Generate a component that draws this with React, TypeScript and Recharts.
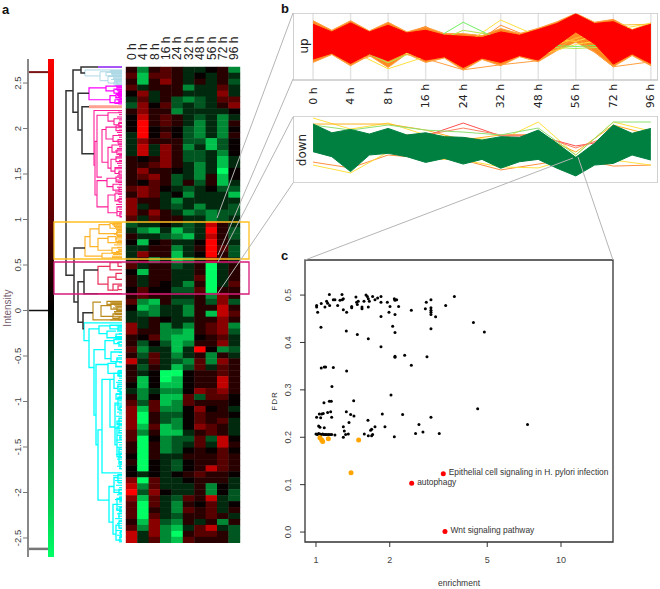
import {
  ComposedChart,
  ScatterChart,
  Scatter,
  Area,
  Line,
  XAxis,
  YAxis,
  CartesianGrid,
  ReferenceArea,
  ReferenceLine,
  LabelList,
} from "recharts";

// panel a: heatmap, one row per cluster block, + is red, - is green
const hours = ["0 h", "4 h", "8 h", "16 h", "24 h", "32 h", "48 h", "56 h", "72 h", "96 h"];

const heatRows = [
  [1, -3, 1, 2, 1, -1, -1, 0, 1, -3],
  [2, -4, 2, 2, 1, -1, 0, -1, 1, -1],
  [1, -4, 1, 3, 1, -1, 1, -1, 1, -2],
  [2, -1, 1, 1, 1, -3, -1, -1, 2, -1],
  [0, 3, -1, 1, 1, -1, -1, -1, 3, -1],
  [-1, 2, -1, 1, -2, -3, -2, -1, 2, 2],
  [-2, 3, 0, 2, -2, -1, -2, -1, 1, 3],
  [1, 3, 1, 1, -3, -1, -1, -1, -1, 0],
  [0, 4, 1, 2, 1, -1, -2, -1, -3, -1],
  [0, 5, 1, 2, 1, -1, -3, -1, -3, 1],
  [0, 5, 0, 1, 0, -2, -3, -1, -3, 0],
  [-1, 5, 0, 2, 0, -2, -3, -1, -3, 1],
  [-1, 3, 1, 1, 1, -2, -2, -4, -2, 0],
  [-1, 4, -1, 3, 1, -3, -1, -4, -2, 0],
  [-1, 4, -1, 3, 1, -2, -2, -1, -3, 0],
  [1, 0, 1, 3, 1, -2, -2, -1, -4, -1],
  [1, 1, 2, 3, 1, -1, -3, -1, -4, -1],
  [1, 3, 1, 1, 0, -1, -3, -1, -5, 0],
  [1, 2, 3, 1, -2, -1, -3, 1, -4, 0],
  [1, 0, 2, 1, -2, 1, -2, 1, -4, -1],
  [2, 3, 2, 0, -1, -2, -1, 0, -2, -2],
  [1, 3, 2, -1, 0, -3, -1, -1, -1, -4],
  [3, 1, 1, -1, -3, -1, -1, -1, -1, -1],
  [3, -1, 1, -1, -2, -1, -3, -1, -1, -2],
  [3, 1, 3, 1, -1, -3, -2, -3, -2, -2],
  [2, -1, 2, 1, 1, -1, -1, -3, -2, -1],
  [-2, -1, -1, 0, -1, -2, -1, 4, 1, -1],
  [-1, -3, -4, -1, -4, -2, -1, 5, 1, -2],
  [1, -1, -1, -2, -3, -4, -1, 4, 1, -2],
  [0, -4, 0, 1, -1, -1, 0, 5, 1, -1],
  [-1, -1, 1, 1, -3, -1, 1, 5, 2, -2],
  [-1, 3, 1, 1, -4, -1, 0, 5, 1, -2],
  [-1, 1, -3, -1, -4, -3, -1, 3, 1, -1],
  [2, -1, 1, 1, -2, -1, 1, -5, -1, 1],
  [0, -4, 1, 1, -1, -1, 1, -5, -1, 1],
  [1, -1, 1, 1, -1, -1, 2, -5, -1, 1],
  [1, -1, 1, 0, -1, -3, 1, -5, -1, 2],
  [0, 2, 0, 0, -2, -2, 2, -5, 1, 1],
  [1, 2, 1, 1, -1, -1, 1, -3, 3, 1],
  [2, -3, -4, 1, -2, -2, 1, -2, 3, -2],
  [0, -4, -3, -1, -1, -3, 1, 1, 4, 1],
  [-1, -2, -3, -1, -1, -3, 1, -4, 4, 2],
  [-1, -1, 1, 0, -1, -1, 1, 1, 3, 1],
  [3, -1, 1, -3, -1, -3, 1, 2, 3, -3],
  [3, 1, 1, -3, -3, -4, 1, 2, 3, -2],
  [1, 0, 2, -3, -4, -4, 0, 1, 2, -1],
  [1, -2, 0, -2, -4, -3, 1, 1, 3, -1],
  [2, -3, -1, -1, -4, -1, 5, 0, -3, -2],
  [1, -2, 2, -1, -3, -1, 1, -3, 1, -1],
  [4, -1, 2, -1, -2, -3, 2, -3, 3, 1],
  [1, -2, 1, -1, -4, -2, 2, -1, 2, 1],
  [1, -1, 0, -5, -5, 0, 1, 1, 2, 1],
  [1, -4, 0, -5, -4, 0, 1, 1, 4, 1],
  [0, -4, 0, -4, -4, 0, 1, 1, 4, 1],
  [-1, -3, -1, -3, -3, 0, 3, 2, 3, 1],
  [1, -3, 0, -4, -4, 2, -2, 2, 2, 0],
  [2, -2, 2, -4, -3, 2, 1, 1, 1, 0],
  [3, -4, 2, -3, -3, 0, 3, 0, 1, -1],
  [3, -5, 1, -2, -2, 0, 2, 1, 1, 0],
  [3, -5, 1, -2, -3, 0, 2, 1, 2, -1],
  [3, -4, 2, -4, -3, 0, 3, 2, 1, -1],
  [2, -3, 1, -4, -4, -1, 1, 2, 1, -1],
  [2, -5, 0, -3, -2, -2, 2, -2, 4, 0],
  [1, -5, 1, -3, -2, -1, 2, -1, 4, 1],
  [1, -5, 1, -3, -2, 0, 1, 0, 2, 0],
  [0, -5, 1, -1, -1, 1, 1, 1, 2, 1],
  [1, -5, 0, -1, -2, 0, 1, 1, 2, 1],
  [0, -5, 0, -1, -2, 0, 1, 4, 2, 1],
  [0, -1, 0, -1, 0, 1, 2, 1, 1, 0],
  [3, -5, 2, -1, -1, 0, 1, 1, 1, -1],
  [4, -3, 2, -1, -1, -1, 1, -3, 0, -1],
  [5, -2, 3, 0, -1, -1, 1, -3, 0, -2],
  [3, -4, 2, -1, -2, 2, 1, 4, -1, -2],
  [2, -5, 2, -1, -3, 1, 0, 2, -1, 0],
  [2, -5, 1, -1, -3, 2, 1, 2, -1, 1],
  [2, -5, 2, -1, -2, 1, 1, 2, 1, -1],
  [1, -4, 3, -2, -3, 1, -1, 1, -3, 1],
  [2, -3, 3, -3, -4, -1, 2, 4, -1, -2],
  [4, -1, 3, -3, -5, 1, 2, 2, 1, -2],
  [4, -1, 2, -3, -4, 2, 1, 1, 1, -2],
];

// dendrogram brackets: [height, topRow, bottomRow, heightOfTopChild, heightOfBottomChild]
const rootTree = [
  [56, 3.5, 34.5, 49, 48],
  [49, 0, 7.1, 41, 44],
  [41, -0.5, 0.5, 24, 37],
  [44, 3.9, 10.1, 33, 40],
  [40, 6.2, 14.1, 33, 28],
  [48, 29.9, 39, 37, 44],
  [44, 35.6, 42.4, 38, 39],
  [38, 33.6, 37.6, 24, 24],
  [39, 40.8, 43.5, 29, 38],
];
const purpleTree = [[24, -0.5, -0.5, 0, 0]];
const lightBlueTree = [
  [37, 0, 1, 0, 22], [22, 0.3, 1.8, 0, 14], [14, 1.1, 2.2, 0, 5], [5, 1.7, 2.4, 0, 0],
  [10, 0.5, 0.9, 0, 0], [16, 0.4, 1, 0, 0], [8, 2, 2.6, 0, 0],
];
const magentaTree = [
  [33, 3, 5, 16, 12], [16, 2.7, 3.5, 0, 8], [8, 3.2, 3.9, 0, 3], [3, 3.6, 4, 0, 0],
  [12, 4.3, 5.5, 6, 7], [6, 4.1, 4.6, 0, 2], [2, 4.4, 4.8, 0, 0], [7, 5, 5.6, 0, 3],
  [3, 5.3, 5.7, 0, 0], [5, 2.9, 3.3, 0, 0],
];
const salmonTree = [[33, 6.2, 6.2, 0, 0]];
const pinkTree = [
  [28, 6.8, 16, 0, 27], [27, 12, 21, 25, 25], [25, 7.6, 18, 14, 20], [14, 7.2, 8.6, 0, 8],
  [8, 8.2, 9.2, 0, 3], [3, 8.8, 9.5, 0, 0], [20, 10, 15.5, 16, 14], [16, 9.6, 11.6, 6, 9],
  [6, 9.4, 10.2, 0, 0], [9, 11, 12, 0, 4], [4, 11.7, 12.3, 0, 0], [14, 13, 16.5, 10, 11],
  [10, 12.6, 13.8, 0, 5], [5, 13.4, 14.2, 0, 0], [11, 15, 17, 6, 7], [6, 14.6, 15.4, 0, 0],
  [7, 16.4, 17.4, 0, 3], [3, 17, 17.6, 0, 0], [25, 18.6, 23, 15, 14], [15, 18.2, 19.6, 6, 9],
  [6, 18, 18.8, 0, 0], [9, 19.2, 20.2, 0, 3], [3, 19.8, 20.4, 0, 0], [14, 21, 24, 7, 5],
  [7, 20.8, 22, 0, 3], [3, 21.6, 22.2, 0, 0], [5, 23, 24.5, 0, 2], [2, 24, 24.7, 0, 0],
];
const orangeTree = [
  [37, 28, 31.3, 32, 20], [32, 26.7, 29.7, 23, 24], [23, 26, 27.5, 12, 5], [12, 25.8, 26.6, 0, 0],
  [5, 27.1, 27.8, 0, 0], [24, 28.3, 30.3, 14, 10], [14, 28, 29, 6, 0], [6, 28.1, 28.8, 0, 0],
  [10, 29.9, 30.7, 0, 3], [3, 30.3, 30.8, 0, 0], [20, 30.8, 31.6, 0, 0], [8, 25.7, 26.2, 0, 0],
];
const crimsonTree = [
  [24, 33, 36, 12, 14], [12, 32.4, 33.6, 4, 0], [4, 32.4, 33, 0, 0], [14, 34.8, 37, 6, 9],
  [6, 34.2, 35.2, 0, 0], [9, 36, 37, 0, 4], [4, 36.3, 36.9, 0, 0], [24, 37.6, 37.6, 0, 0],
];
const goldTree = [
  [29, 39, 42, 21, 0], [21, 39.6, 41.4, 11, 9], [11, 39.2, 40.2, 0, 5], [5, 39.8, 40.4, 0, 0],
  [9, 41, 41.8, 0, 3], [3, 41.5, 42, 0, 0], [15, 38.9, 39.4, 0, 0], [7, 40.6, 41.1, 0, 0],
];
const cyanTree = [
  [38, 42.5, 45.5, 0, 33], [33, 43.5, 50, 23, 28], [23, 43, 44.3, 12, 15], [12, 42.9, 43.5, 0, 4],
  [4, 43.2, 43.7, 0, 0], [15, 43.9, 45, 6, 0], [6, 44.4, 45.1, 0, 0], [28, 47, 58, 17, 26],
  [17, 45.5, 48.5, 8, 11], [8, 45.3, 46, 0, 3], [3, 45.7, 46.2, 0, 0], [11, 47.4, 49, 0, 5],
  [5, 48.4, 49, 0, 0], [26, 49.5, 63, 14, 24], [14, 49.3, 51, 6, 4], [6, 49, 49.8, 0, 0],
  [4, 50.6, 51.3, 0, 0], [24, 60.5, 72.3, 20, 13], [20, 52, 67.7, 12, 0], [12, 52, 60, 8, 7],
  [8, 51, 53.5, 3, 4], [3, 50.8, 51.5, 0, 0], [4, 52.8, 54, 0, 2], [2, 53.5, 54.2, 0, 0],
  [7, 56, 63, 4, 5], [4, 55, 57, 0, 2], [2, 56.5, 57.2, 0, 0], [5, 60, 65, 3, 3],
  [3, 58.5, 61, 0, 0], [3, 63.5, 66, 0, 0], [6, 54.5, 55.3, 0, 0], [5, 59, 59.6, 0, 0],
  [2, 61.5, 62.1, 0, 0], [2, 64.5, 65.1, 0, 0], [2, 66.3, 67, 0, 0], [13, 70, 76, 8, 9],
  [8, 68.5, 71, 4, 3], [4, 68, 69.3, 0, 0], [3, 70.5, 71.2, 0, 0], [9, 73, 78, 5, 6],
  [5, 72, 74, 0, 2], [2, 73.5, 74, 0, 0], [6, 76.5, 79, 3, 2], [3, 75.8, 77, 0, 0],
  [2, 78.4, 79.2, 0, 0], [2, 71.8, 72.4, 0, 0], [3, 74.5, 75.4, 0, 0], [1.5, 77.6, 78.1, 0, 0],
];

// leaf twigs: [height, row]
const lightBlueTwigs = [
  [12, 0.1], [12, 0.3], [11, 0.6], [10, 0.8], [14, 1], [9, 1.2], [9, 1.4], [11, 1.6], [8, 1.8], [8, 2], [7, 2.2], [7, 2.4],
];
const magentaTwigs = [
  [6, 2.7], [4, 3], [7, 3.3], [5, 3.5], [4, 3.8], [6, 4], [5, 4.3], [4, 4.5], [7, 4.7], [5, 5], [4, 5.2], [6, 5.5],
];
const pinkTwigs = [
  [4, 7.1], [3, 7.5], [5, 7.9], [3, 8.4], [4, 9], [6, 9.7], [3, 10.1], [5, 10.5], [4, 10.9], [3, 11.3], [6, 12], [4, 12.5],
  [3, 12.9], [5, 13.2], [7, 13.6], [4, 14], [3, 14.4], [6, 14.8], [3, 15.2], [5, 15.7], [4, 16.1], [7, 16.6], [4, 17.3],
  [5, 17.8], [3, 18.2], [6, 18.5], [4, 18.9], [3, 19.3], [5, 19.7], [3, 20.1], [7, 20.5], [4, 20.9], [3, 21.3], [5, 21.8],
  [3, 22.2], [6, 22.6], [4, 23], [3, 23.4], [5, 23.8], [3, 24.2], [2, 24.6],
];
const orangeTwigs = [
  [9, 25.8], [10, 26], [8, 26.3], [7, 26.5], [6, 26.8], [5, 27], [6, 27.3], [8, 27.6], [5, 28], [7, 28.4], [4, 28.7],
  [5, 29.1], [8, 29.4], [5, 29.8], [4, 30.2], [6, 30.5], [8, 30.8], [9, 31], [10, 31.3], [10, 31.5],
];
const goldTwigs = [
  [12, 39], [10, 39.2], [8, 39.5], [7, 39.7], [9, 40], [6, 40.3], [8, 40.6], [7, 40.9], [5, 41.1], [9, 41.4], [8, 41.7], [12, 42],
];
const cyanTwigs = [
  [6, 43], [4, 43.4], [5, 43.9], [3, 44.3], [7, 44.8], [3, 45.3], [5, 45.8], [4, 46.4], [8, 47], [3, 47.5], [4, 48], [6, 48.6],
  [3, 49.2], [7, 49.9], [4, 50.5], [3, 51], [5, 51.4], [3, 51.8], [4, 52.2], [6, 52.5], [3, 52.9], [5, 53.2], [3, 53.6], [4, 54],
  [6, 54.4], [3, 54.8], [5, 55.2], [3, 55.6], [4, 56], [7, 56.3], [3, 56.7], [4, 57.1], [5, 57.5], [3, 57.8], [6, 58.2],
  [3, 58.6], [4, 59], [5, 59.4], [3, 59.8], [7, 60.2], [3, 60.6], [4, 61], [5, 61.4], [3, 61.8], [6, 62.2], [4, 62.6], [3, 63],
  [5, 63.4], [3, 63.8], [4, 64.2], [6, 64.6], [3, 65], [5, 65.4], [3, 65.8], [4, 66.2], [5, 66.6], [3, 67], [9, 68.2], [5, 68.6],
  [7, 69], [4, 69.4], [6, 69.8], [3, 70.2], [8, 70.6], [4, 71], [5, 71.4], [3, 71.8], [7, 72.2], [3, 72.6], [5, 73], [4, 73.4],
  [6, 73.8], [3, 74.2], [5, 74.6], [4, 75], [7, 75.4], [3, 75.8], [5, 76.2], [4, 76.6], [3, 77], [6, 77.4], [3, 77.8], [5, 78.2],
  [3, 78.6], [4, 79], [3, 79.3],
];

const intensityTicks = [2.5, 2, 1.5, 1, 0.5, 0, -0.5, -1, -1.5, -2, -2.5];
const intensityMarks = [2.62, 0, -2.62];

// panel b: band outlines read at every tick and at the waist between ticks (19 stops)
const upCoreHigh = [1.33, 0.87, 1.41, 0.87, 1.27, 0.81, 0.97, 0.67, 0.61, 0.53, 0.87, 0.67, 1.01, 1.37, 1.94, 1.37, 1.48, 0.97, 1.33];
const upCoreLow = [-0.75, -0.4, -1.01, -0.44, -0.85, -0.34, -0.81, -0.61, -1.25, -0.69, -0.95, -0.54, -0.81, 0.06, 0.87, 0.16, -1.05, -0.44, -1.01];
const upEdgeHigh = [1.54, 0.97, 1.54, 0.93, 1.45, 0.87, 1.17, 0.77, 0.77, 0.65, 1.07, 0.77, 1.09, 1.48, 1.98, 1.45, 1.62, 1.01, 1.41];
const upEdgeLow = [-0.95, -0.48, -1.15, -0.54, -1.25, -0.44, -0.95, -0.69, -1.41, -0.77, -1.15, -0.61, -0.91, -0.24, 0.26, -0.34, -1.21, -0.54, -1.15];
// stray profiles, one value per time point
const upStrays = [
  [-0.12, -0.24, -1.33, -0.61, -0.24, 0.06, -0.55, 0.12, 0.48, 0.97],
  [0.97, 0.67, -0.24, -0.61, 0.06, 1.58, 0.61, 0.3, 0.97, 1.39],
  [0.12, 0.36, 0.24, 0.12, 1.45, 0.36, 0.12, 0, 0.12, 0.12],
  [0, 0.06, -0.97, 0, 0.97, 0.61, 0, -0.12, 0, 0],
  [0.36, -0.97, -0.24, -0.73, -1.39, -1.09, -0.85, 0.55, -1.21, -0.91],
  [1.45, 0.06, 0.36, 1.2, -0.36, 1.27, 0.36, 0.67, 1.58, -0.36],
  [-0.24, -0.36, -0.06, 0.36, -0.12, 0.06, -0.24, 0.48, 1.27, 1.33],
];
const upStrayColors = ["#ffe040", "#ffe040", "#70ee60", "#b0e850", "#ffa040", "#ff9030", "#ffc030"];

const downCoreHigh = [1.52, 1.0, 1.2, 0.925, 1.26, 0.865, 1.0, 0.765, 0.725, 0.565, 0.765, 0.725, 1.16, 0.37, -0.47, 0.37, 1.46, 0.965, 1.26];
const downCoreLow = [-0.13, -0.43, -1.32, -0.33, -0.23, -0.43, -0.77, -0.53, -0.87, -0.59, -1.12, -0.73, -0.59, -1.12, -1.58, -0.93, -0.83, -0.33, -0.63];
const downStrays = [
  [1.88, 1.22, 1.58, 0.87, 0.69, 0.57, 1.64, -0.33, 1.64, 1.1],
  [1.52, 1.52, 1.52, 1.16, 0.57, 0.87, 0.87, -0.15, 1.46, 0.87],
  [0.57, 0.57, 0.57, 0.81, 1.58, 0.81, 0.81, 0.21, 0.57, 0.57],
  [0.87, 0.87, 0.87, 0.87, 1.28, 0.87, 0.87, 0.09, 0.87, 0.87],
  [-0.75, -1.1, -0.33, -0.51, -0.63, -1.22, -0.87, -0.51, -0.99, -0.93],
  [-0.93, -1.4, -0.15, -0.51, -0.63, -1.04, -1.1, -0.45, -0.63, -0.93],
  [1.46, 1.16, 1.46, 1.16, 1.04, 0.87, 1.28, -0.33, 1.64, 1.64],
];
const downStrayColors = ["#ffe040", "#ffb020", "#ff5050", "#ff8060", "#ff9040", "#ffe040", "#90e070"];

// panel c: [enrichment, FDR]
const plainTerms = [
  [1.006, 0.478], [1.006, 0.475], [1.016, 0.464], [1.051, 0.482], [1.088, 0.475], [1.105, 0.487],
  [1.116, 0.483], [1.134, 0.501], [1.137, 0.478], [1.177, 0.49], [1.195, 0.49], [1.226, 0.478],
  [1.253, 0.489], [1.277, 0.501], [1.281, 0.49], [1.293, 0.492], [1.293, 0.469], [1.334, 0.464],
  [1.399, 0.476], [1.399, 0.473], [1.456, 0.496], [1.465, 0.485], [1.488, 0.487], [1.475, 0.48],
  [1.541, 0.475], [1.541, 0.471], [1.57, 0.487], [1.6, 0.5], [1.62, 0.497], [1.635, 0.492],
  [1.651, 0.487], [1.635, 0.475], [1.703, 0.497], [1.741, 0.49], [1.785, 0.494], [1.842, 0.497],
  [1.842, 0.485], [1.955, 0.485], [1.986, 0.464], [2.005, 0.476], [2.088, 0.492], [2.101, 0.489],
  [2.134, 0.49], [2.101, 0.459], [2.174, 0.476], [2.45, 0.468], [2.795, 0.471], [2.82, 0.485],
  [2.946, 0.49], [2.946, 0.473], [2.946, 0.468], [2.946, 0.464], [2.946, 0.459], [3.078, 0.454],
  [3.383, 0.478], [3.671, 0.497], [1.842, 0.455], [4.391, 0.442], [4.866, 0.422], [1.048, 0.432],
  [1.33, 0.424], [1.475, 0.417], [1.635, 0.408], [1.842, 0.391], [2.056, 0.434], [2.101, 0.421],
  [2.946, 0.429], [2.101, 0.371], [2.101, 0.369], [2.301, 0.373], [2.838, 0.37], [2.45, 0.352],
  [1.051, 0.346], [1.081, 0.348], [1.095, 0.348], [1.177, 0.347], [1.334, 0.34], [1.162, 0.307],
  [2.024, 0.289], [1.078, 0.273], [1.134, 0.276], [1.155, 0.276], [1.425, 0.277], [4.57, 0.26],
  [1.006, 0.242], [1.045, 0.241], [1.032, 0.249], [1.055, 0.249], [1.071, 0.25], [1.116, 0.252],
  [1.159, 0.242], [1.148, 0.254], [1.33, 0.254], [1.385, 0.248], [1.429, 0.245], [1.63, 0.236],
  [1.865, 0.249], [2.258, 0.248], [2.946, 0.242], [7.3, 0.227], [1.364, 0.231], [1.293, 0.222],
  [1.025, 0.224], [1.038, 0.221], [1.081, 0.22], [1.305, 0.213], [1.0, 0.207], [1.013, 0.206],
  [1.025, 0.208], [1.038, 0.207], [1.051, 0.206], [1.065, 0.207], [1.078, 0.206], [1.092, 0.206],
  [1.105, 0.206], [1.123, 0.206], [1.141, 0.206], [1.159, 0.206], [1.195, 0.205], [1.293, 0.2],
  [1.321, 0.206], [1.355, 0.207], [1.575, 0.207], [1.635, 0.203], [1.687, 0.203], [1.703, 0.206],
  [1.671, 0.215], [1.687, 0.217], [1.741, 0.222], [1.912, 0.222], [2.088, 0.201], [2.632, 0.227],
  [2.55, 0.208], [2.733, 0.211], [3.185, 0.208],
];
const orangeTerms = [
  [1.038, 0.199], [1.055, 0.194], [1.065, 0.191], [1.123, 0.197], [1.493, 0.194], [1.39, 0.125],
];
const redTerms = [
  [3.308, 0.123, "Epithelial cell signaling in H. pylori infection"],
  [2.458, 0.103, "autophagy"],
  [3.361, 0.001, "Wnt signaling pathway"],
];
const enrichmentTicks = [1, 2, 5, 10];
const fdrTicks = [0, 0.1, 0.2, 0.3, 0.4, 0.5];

const sans = "'Liberation Sans', Arial, sans-serif";
const dejavu = "'DejaVu Sans', sans-serif";

const trees = [
  { brackets: lightBlueTree, twigs: lightBlueTwigs, color: "#add8e6", width: 1 },
  { brackets: purpleTree, twigs: [], color: "#a855f7", width: 2 },
  { brackets: magentaTree, twigs: magentaTwigs, color: "#ff00ff", width: 1.2 },
  { brackets: salmonTree, twigs: [], color: "#ffa090", width: 3 },
  { brackets: pinkTree, twigs: pinkTwigs, color: "#ff1f9a", width: 1.1 },
  { brackets: orangeTree, twigs: orangeTwigs, color: "#ffb42a", width: 1.2 },
  { brackets: crimsonTree, twigs: [], color: "#e8305a", width: 1.2 },
  { brackets: goldTree, twigs: goldTwigs, color: "#bb8a1c", width: 1.2 },
  { brackets: cyanTree, twigs: cyanTwigs, color: "#00ffff", width: 1.3 },
  { brackets: rootTree, twigs: [], color: "#333333", width: 1.5 },
];

const heatColor = (level: number) => {
  const k = Math.pow(Math.abs(level) / 5, 1.25);
  if (level >= 0) return `rgb(${Math.round(k * 245) + 8},0,0)`;
  return `rgb(0,${Math.round(k * 245) + 8},${Math.round(k * 100)})`;
};

const HeatCell = (props: any) => (
  <rect
    x={props.cx - 5.9}
    y={props.cy - 3.2}
    width={11.8}
    height={6.4}
    fill={heatColor(props.payload.level)}
  />
);

const NoDot = () => <g />;

function Heatmap() {
  const cells = heatRows.flatMap((row, r) =>
    row.map((level, c) => ({ col: c, row: r, level }))
  );
  return (
    <div style={{ position: "absolute", left: 116, top: 30 }}>
      <ScatterChart width={134} height={513} margin={{ top: 0, right: 10, bottom: 0, left: 10 }}>
        <XAxis
          type="number"
          dataKey="col"
          orientation="top"
          domain={[-0.5, 9.5]}
          ticks={[0, 1, 2, 3, 4, 5, 6, 7, 8, 9]}
          interval={0}
          height={37}
          axisLine={false}
          tickLine={false}
          tick={(p: any) => (
            <text
              x={p.x}
              y={30}
              transform={`rotate(-90 ${p.x} 30)`}
              textAnchor="start"
              dominantBaseline="central"
              fontFamily={sans}
              fontSize={12}
              fill="#222"
            >
              {hours[p.payload.value]}
            </text>
          )}
        />
        <YAxis type="number" dataKey="row" domain={[-0.5, 79.5]} reversed hide />
        <Scatter data={cells} shape={HeatCell} isAnimationActive={false} />
      </ScatterChart>
    </div>
  );
}

function Dendrogram() {
  return (
    <div style={{ position: "absolute", left: 51, top: 65 }}>
      <ComposedChart width={71} height={480} margin={{ top: 2, right: 0, bottom: 2, left: 0 }}>
        <XAxis type="number" dataKey="h" domain={[0, 71]} reversed hide />
        <YAxis type="number" dataKey="n" domain={[-0.5, 79.5]} reversed hide />
        {trees.flatMap((tree, t) => [
          ...tree.brackets.map((b, i) => (
            <Scatter
              key={`${t}-b${i}`}
              data={[
                { h: b[3], n: b[1] },
                { h: b[0], n: b[1] },
                { h: b[0], n: b[2] },
                { h: b[4], n: b[2] },
              ]}
              line={{ stroke: tree.color, strokeWidth: tree.width }}
              shape={NoDot}
              isAnimationActive={false}
            />
          )),
          ...tree.twigs.map((w, i) => (
            <Scatter
              key={`${t}-w${i}`}
              data={[
                { h: w[0], n: w[1] },
                { h: 0, n: w[1] },
              ]}
              line={{ stroke: tree.color, strokeWidth: 1.1 }}
              shape={NoDot}
              isAnimationActive={false}
            />
          )),
        ])}
      </ComposedChart>
    </div>
  );
}

function IntensityKey() {
  const markRows = intensityMarks.map((y) => ({ x: 0, y }));
  return (
    <div style={{ position: "absolute", left: 0, top: 49 }}>
      <ComposedChart width={60} height={518} margin={{ top: 10, right: 6, bottom: 10, left: 0 }}>
        <defs>
          <linearGradient id="intensityRamp" x1="0" y1="0" x2="0" y2="1">
            <stop offset="0%" stopColor="#ff0000" />
            <stop offset="50%" stopColor="#000000" />
            <stop offset="100%" stopColor="#00ff66" />
          </linearGradient>
        </defs>
        <XAxis type="number" dataKey="x" domain={[0, 26]} hide />
        <YAxis
          type="number"
          dataKey="y"
          domain={[-2.709, 2.764]}
          ticks={intensityTicks}
          interval={0}
          width={28}
          axisLine={{ stroke: "#888", strokeWidth: 2 }}
          tickLine={{ stroke: "#777" }}
          tickSize={5}
          tick={(p: any) => (
            <text
              x={18}
              y={p.y}
              transform={`rotate(-90 18 ${p.y})`}
              textAnchor="middle"
              dominantBaseline="central"
              fontFamily={sans}
              fontSize={9.5}
              fill="#444"
            >
              {p.payload.value}
            </text>
          )}
          label={{
            value: "Intensity",
            angle: -90,
            position: "insideLeft",
            offset: 0,
            dx: 7,
            style: { fontFamily: sans, fontSize: 10, fill: "#77606f", textAnchor: "middle" },
          }}
        />
        <Scatter data={markRows} shape={NoDot} isAnimationActive={false} />
        <ReferenceLine segment={[{ x: 0, y: intensityMarks[0] }, { x: 20, y: intensityMarks[0] }]} stroke="#7a1515" strokeWidth={2} />
        <ReferenceLine segment={[{ x: 0, y: intensityMarks[1] }, { x: 20, y: intensityMarks[1] }]} stroke="#111" strokeWidth={1.5} />
        <ReferenceLine segment={[{ x: 0, y: intensityMarks[2] }, { x: 20, y: intensityMarks[2] }]} stroke="#777" strokeWidth={2.5} />
        <ReferenceArea x1={20} x2={26} y1={-2.709} y2={2.764} fill="url(#intensityRamp)" fillOpacity={1} stroke="none" />
      </ComposedChart>
    </div>
  );
}

type ProfileProps = {
  top: number;
  showHours: boolean;
  coreHigh: number[];
  coreLow: number[];
  coreColor: string;
  edgeHigh?: number[];
  edgeLow?: number[];
  strays: number[][];
  strayColors: string[];
};

const profileDomain = [-0.534, 9.19];

function Profile({ top, showHours, coreHigh, coreLow, coreColor, edgeHigh, edgeLow, strays, strayColors }: ProfileProps) {
  // even stops are time points, odd stops the waists between them
  const rows = coreHigh.map((high, i) => {
    const row: any = { idx: i / 2, core: [coreLow[i], high] };
    if (edgeHigh && edgeLow) row.edge = [edgeLow[i], edgeHigh[i]];
    if (i % 2 === 0) {
      strays.forEach((s, k) => {
        row[`s${k}`] = s[i / 2];
      });
    }
    return row;
  });
  const chartHeight = showHours ? 110 : 67;
  const axisHeight = showHours ? 43 : 0;
  return (
    <>
      {/* stray profiles sit under the solid bundle, so they get their own layer */}
      <div style={{ position: "absolute", left: 293, top }}>
        <ComposedChart width={365} height={chartHeight} data={rows} margin={{ top: 0, right: 0, bottom: 0, left: 0 }}>
          <CartesianGrid horizontal={false} stroke="#e4e4e4" strokeWidth={1.5} />
          <XAxis
            type="number"
            dataKey="idx"
            domain={profileDomain}
            ticks={[0, 1, 2, 3, 4, 5, 6, 7, 8, 9]}
            interval={0}
            height={axisHeight}
            axisLine={false}
            tickLine={false}
            tick={
              showHours
                ? (p: any) => (
                    <text
                      x={p.x}
                      y={83}
                      transform={`rotate(-90 ${p.x} 83)`}
                      textAnchor="middle"
                      dominantBaseline="central"
                      fontFamily={dejavu}
                      fontSize={11}
                      fill="#222"
                    >
                      {hours[p.payload.value]}
                    </text>
                  )
                : false
            }
          />
          <YAxis type="number" domain={[-2, 2]} hide />
          {edgeHigh && (
            <Area type="linear" dataKey="edge" fill="#ff8a20" fillOpacity={1} stroke="#ffa040" strokeWidth={1} isAnimationActive={false} />
          )}
          {strays.map((_, k) => (
            <Line
              key={k}
              type="linear"
              dataKey={`s${k}`}
              stroke={strayColors[k]}
              strokeWidth={1}
              dot={false}
              connectNulls
              isAnimationActive={false}
            />
          ))}
          <ReferenceArea x1={profileDomain[0]} x2={profileDomain[1]} y1={-2} y2={2} fill="none" stroke="#c8c8c8" strokeWidth={1.5} />
        </ComposedChart>
      </div>
      <div style={{ position: "absolute", left: 293, top }}>
        <ComposedChart width={365} height={chartHeight} data={rows} margin={{ top: 0, right: 0, bottom: axisHeight, left: 0 }}>
          <XAxis type="number" dataKey="idx" domain={profileDomain} hide />
          <YAxis type="number" domain={[-2, 2]} hide />
          <Area type="linear" dataKey="core" fill={coreColor} fillOpacity={1} stroke={coreColor} strokeWidth={1} isAnimationActive={false} />
        </ComposedChart>
      </div>
    </>
  );
}

const toPoints = (rows: any[]) => rows.map((r) => ({ enrichment: r[0], fdr: r[1], name: r[2] }));

const dot = (r: number, fill: string) => (props: any) => <circle cx={props.cx} cy={props.cy} r={r} fill={fill} />;

const TermLabel = (p: any) => (
  <text x={p.x + 10} y={p.y + 3} dominantBaseline="central" fontFamily={sans} fontSize={8.4} fill="#333">
    {p.value}
  </text>
);

function EnrichmentPlot() {
  return (
    <div style={{ position: "absolute", left: 265, top: 250 }}>
      <ScatterChart width={360} height={339} margin={{ top: 10, right: 12, bottom: 0, left: 0 }}>
        <XAxis
          type="number"
          dataKey="enrichment"
          scale="log"
          domain={[0.902, 16.3]}
          allowDataOverflow
          ticks={enrichmentTicks}
          interval={0}
          height={47}
          axisLine={false}
          tickLine={{ stroke: "#333" }}
          tickSize={5}
          tick={(p: any) => (
            <text x={p.x} y={310} textAnchor="middle" dominantBaseline="central" fontFamily={sans} fontSize={9} fill="#444">
              {p.payload.value}
            </text>
          )}
          label={{
            value: "enrichment",
            position: "insideBottom",
            offset: 0,
            dy: -3,
            style: { fontFamily: sans, fontSize: 8.5, fill: "#333" },
          }}
        />
        <YAxis
          type="number"
          dataKey="fdr"
          domain={[-0.021, 0.574]}
          ticks={fdrTicks}
          interval={0}
          width={40}
          axisLine={false}
          tickLine={{ stroke: "#333" }}
          tickSize={5}
          tick={(p: any) => (
            <text
              x={23}
              y={p.y}
              transform={`rotate(-90 23 ${p.y})`}
              textAnchor="middle"
              dominantBaseline="central"
              fontFamily={sans}
              fontSize={9}
              fill="#444"
            >
              {p.payload.value.toFixed(1)}
            </text>
          )}
          label={{
            value: "FDR",
            angle: -90,
            position: "insideLeft",
            offset: 0,
            dx: 9,
            style: { fontFamily: sans, fontSize: 8, fill: "#333", letterSpacing: 1, textAnchor: "middle" },
          }}
        />
        <ReferenceArea x1={0.902} x2={16.3} y1={-0.021} y2={0.574} fill="none" stroke="#333" strokeWidth={1.3} />
        <Scatter data={toPoints(plainTerms)} shape={dot(1.5, "#000")} isAnimationActive={false} />
        <Scatter data={toPoints(orangeTerms)} shape={dot(2.5, "#ffa500")} isAnimationActive={false} />
        <Scatter data={toPoints(redTerms)} shape={dot(2.5, "#ff0000")} isAnimationActive={false}>
          <LabelList dataKey="name" content={TermLabel} />
        </Scatter>
      </ScatterChart>
    </div>
  );
}

// boxes and guide lines that tie the panels together, in page pixels
const boxes = [
  { y1: 222, y2: 259, color: "#ffc020" },
  { y1: 262, y2: 294, color: "#d81b7a" },
];
const guides = [
  [217, 218, 293, 13],
  [218, 255, 293, 79],
  [218, 262, 293, 117],
  [218, 293, 293, 183],
  [573, 158, 305, 260],
  [578, 157, 613, 260],
];

function Overlay() {
  const anchors = guides.flatMap((g) => [
    { x: g[0], y: g[1] },
    { x: g[2], y: g[3] },
  ]);
  return (
    <div style={{ position: "absolute", left: 0, top: 0, pointerEvents: "none" }}>
      <ComposedChart width={660} height={589} margin={{ top: 0, right: 0, bottom: 0, left: 0 }}>
        <XAxis type="number" dataKey="x" domain={[0, 660]} hide />
        <YAxis type="number" dataKey="y" domain={[0, 589]} reversed hide />
        <Scatter data={anchors} shape={NoDot} isAnimationActive={false} />
        {guides.map((g, i) => (
          <ReferenceLine key={i} segment={[{ x: g[0], y: g[1] }, { x: g[2], y: g[3] }]} stroke="#b5b5b5" strokeWidth={1} />
        ))}
        {boxes.map((b, i) => (
          <ReferenceArea key={i} x1={54} x2={249} y1={b.y1} y2={b.y2} fill="none" stroke={b.color} strokeWidth={1.3} />
        ))}
      </ComposedChart>
    </div>
  );
}

const letterStyle = (left: number, top: number): any => ({
  position: "absolute",
  left,
  top,
  fontFamily: sans,
  fontWeight: 700,
  fontSize: 13,
  lineHeight: "13px",
  color: "#111",
});

const sideStyle = (left: number, top: number): any => ({
  position: "absolute",
  left,
  top,
  fontFamily: dejavu,
  fontSize: 12,
  lineHeight: "12px",
  color: "#222",
  transform: "translate(-50%, -50%) rotate(-90deg)",
});

export default function App() {
  return (
    <div style={{ position: "absolute", left: 0, top: 0, width: 660, height: 589, background: "#fff", overflow: "hidden" }}>
      <div style={letterStyle(2, 3)}>a</div>
      <div style={letterStyle(281, 2)}>b</div>
      <div style={letterStyle(281, 249)}>c</div>
      <IntensityKey />
      <Dendrogram />
      <Heatmap />
      <Profile
        top={13}
        showHours
        coreHigh={upCoreHigh}
        coreLow={upCoreLow}
        coreColor="#ff0000"
        edgeHigh={upEdgeHigh}
        edgeLow={upEdgeLow}
        strays={upStrays}
        strayColors={upStrayColors}
      />
      <Profile
        top={116}
        showHours={false}
        coreHigh={downCoreHigh}
        coreLow={downCoreLow}
        coreColor="#008040"
        strays={downStrays}
        strayColors={downStrayColors}
      />
      <div style={sideStyle(304, 46)}>up</div>
      <div style={sideStyle(302, 150)}>down</div>
      <EnrichmentPlot />
      <Overlay />
    </div>
  );
}
